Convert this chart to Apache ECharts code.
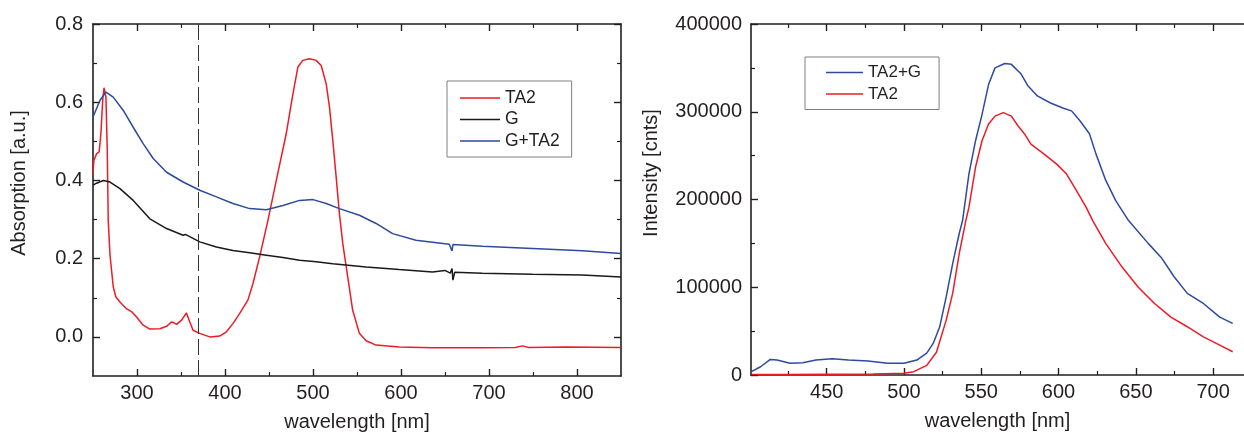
<!DOCTYPE html>
<html><head><meta charset="utf-8">
<script src="https://cdn.jsdelivr.net/npm/echarts@6/dist/echarts.min.js"></script>
<style>html,body{margin:0;padding:0;background:#fff}#c{width:1244px;height:437px}</style>
</head><body><div id="c"></div>
<script>
// ---------- Left panel: absorption ----------
const absXLabels = [300, 400, 500, 600, 700, 800];
const absXMinor = [350, 450, 550, 650, 750];
const absYLabels = [0, 0.2, 0.4, 0.6, 0.8];
const absYMinor = [0.1, 0.3, 0.5, 0.7];
const dashX = 370;

const ta2Wl = [250, 251, 254, 257, 259, 261, 262.5, 264.7, 266.2, 267.3, 269.3, 273, 276, 280.6, 288, 294, 299.5, 307, 314.6, 326, 333.6, 339, 342, 345, 350.6, 356.2, 360, 363.7, 371.3, 382.7, 394, 401.6, 409, 416.7, 426, 431.7, 439.3, 448.8, 458.3, 469.6, 477.1, 482.8, 488.4, 496, 503.6, 509.3, 515, 518.7, 522.5, 526.3, 530, 533.8, 539.5, 545.1, 552.7, 560.3, 571.7, 598, 635.8, 692.5, 730, 738, 745, 787, 850];
const ta2Abs = [0.418, 0.451, 0.468, 0.473, 0.52, 0.605, 0.637, 0.613, 0.477, 0.298, 0.21, 0.128, 0.102, 0.089, 0.072, 0.064, 0.051, 0.030, 0.020, 0.021, 0.027, 0.038, 0.036, 0.032, 0.043, 0.061, 0.038, 0.017, 0.009, 0.000, 0.002, 0.013, 0.034, 0.060, 0.094, 0.136, 0.204, 0.298, 0.40, 0.52, 0.62, 0.69, 0.707, 0.711, 0.707, 0.694, 0.647, 0.588, 0.502, 0.409, 0.315, 0.239, 0.153, 0.068, 0.009, -0.010, -0.021, -0.026, -0.028, -0.028, -0.027, -0.023, -0.027, -0.026, -0.027];

const gWl = [250, 254, 261.7, 269.3, 280.6, 295.7, 314.6, 333.6, 352.4, 355, 357, 371.3, 390.2, 409, 428, 447, 465.8, 484.7, 503.6, 522.5, 560.3, 598, 635.8, 650, 656, 658, 659, 661, 692.5, 749.4, 806, 850];
const gAbs = [0.388, 0.393, 0.400, 0.396, 0.379, 0.349, 0.302, 0.277, 0.260, 0.262, 0.257, 0.243, 0.230, 0.221, 0.215, 0.209, 0.203, 0.196, 0.192, 0.187, 0.179, 0.172, 0.166, 0.170, 0.163, 0.175, 0.145, 0.165, 0.163, 0.160, 0.158, 0.153];

const gtaWl = [250, 258, 264.7, 273, 284.4, 295.7, 307, 318.4, 333.6, 352.4, 371.3, 390.2, 409, 428, 447, 465.8, 484.7, 500, 515, 530, 552.7, 571.7, 590.5, 617, 654.8, 657, 658, 659, 692.5, 749.4, 806, 850];
const gtaAbs = [0.562, 0.605, 0.626, 0.613, 0.579, 0.536, 0.494, 0.456, 0.421, 0.396, 0.375, 0.358, 0.341, 0.328, 0.325, 0.336, 0.349, 0.351, 0.341, 0.328, 0.311, 0.290, 0.264, 0.247, 0.237, 0.240, 0.220, 0.236, 0.232, 0.226, 0.220, 0.213];

// ---------- Right panel: emission ----------
const emXLabels = [450, 500, 550, 600, 650, 700];
const emXMinor = [425, 475, 525, 575, 625, 675];
const emYLabels = [0, 100000, 200000, 300000, 400000];
const emYMinor = [50000, 150000, 250000, 350000];

const tagWl = [401.3, 407.2, 413.5, 417.8, 426.2, 434.6, 443, 453.5, 464.1, 476.7, 489.4, 500, 508.3, 514.7, 518.9, 523.1, 527.3, 531.5, 535.7, 537.9, 542, 546.3, 550.5, 554.7, 558.9, 565.2, 569.5, 575.8, 580, 586.3, 594.8, 603.2, 608.4, 613.7, 620, 624.2, 630.5, 636.9, 645.3, 658, 666.4, 674.8, 683.3, 693.7, 704.3, 712.7];
const tagInt = [3800, 9400, 17800, 17000, 13300, 14000, 17000, 18500, 17000, 15900, 13300, 13300, 17000, 25000, 36000, 54900, 89000, 127000, 161000, 176000, 229000, 267000, 297000, 331000, 350000, 355000, 354000, 343000, 330000, 318000, 310000, 304000, 301000, 290000, 275000, 252000, 222000, 199000, 176000, 150000, 134000, 112000, 93000, 81500, 66000, 58800];

const taEmWl = [401.3, 420, 450, 480, 500, 506.3, 514.7, 521, 527.3, 531.5, 535.7, 540, 542, 546.3, 550.5, 554.7, 558.9, 564.2, 569.5, 573.7, 577.9, 582.1, 590.5, 599, 605.2, 611.6, 617.9, 622.1, 630.5, 641.1, 651.6, 662.1, 672.7, 683.3, 693.7, 704.3, 712.7];
const taEmInt = [500, 600, 800, 1000, 1900, 3800, 11000, 26000, 62500, 93000, 138000, 176000, 191000, 237000, 267000, 286000, 295000, 299000, 295000, 284000, 275000, 263000, 252000, 240000, 229000, 210000, 191000, 176000, 150000, 123000, 100000, 81500, 66000, 55000, 43500, 34000, 26500];

// ---------- styling ----------
const C = '#231f20';
const FF = "'Liberation Sans', Arial, sans-serif";
const RED = '#ed1c24', BLUE = '#2d4a9e', BLACK = '#1a1a1a';
const zip = (a, b) => a.map((x, i) => [x, b[i]]);

function ax(o) {
  return Object.assign({
    type: 'value', splitLine: {show: false},
    axisLine: {show: false, onZero: false},
    axisLabel: {show: false}, axisTick: {show: false}
  }, o);
}
const lineOn = {show: true, onZero: false, lineStyle: {color: C, width: 1.6}};
const major = (vals) => ({show: true, inside: true, length: 7, customValues: vals, lineStyle: {color: C, width: 1.4}});
const minor = (vals) => ({show: true, inside: true, length: 4, customValues: vals, lineStyle: {color: C, width: 1.2}});
const nameStyle = (pad) => ({fontSize: 20, color: C, fontFamily: FF, padding: pad});

const xAxis = [
  ax({gridIndex: 0, position: 'bottom', min: 250, max: 850, axisLine: lineOn, axisTick: major(absXLabels),
      axisLabel: {show: true, customValues: absXLabels, margin: 7, fontSize: 20, color: C, fontFamily: FF},
      name: 'wavelength [nm]', nameLocation: 'middle', nameGap: 36, nameTextStyle: nameStyle(0)}),
  ax({gridIndex: 0, position: 'bottom', min: 250, max: 850, axisTick: minor(absXMinor)}),
  ax({gridIndex: 0, position: 'top', min: 250, max: 850, axisLine: lineOn, axisTick: major(absXLabels)}),
  ax({gridIndex: 0, position: 'top', min: 250, max: 850, axisTick: minor(absXMinor)}),
  ax({gridIndex: 1, position: 'bottom', min: 401, max: 720, axisLine: lineOn, axisTick: major(emXLabels),
      axisLabel: {show: true, customValues: emXLabels, margin: 7, fontSize: 20, color: C, fontFamily: FF},
      name: 'wavelength [nm]', nameLocation: 'middle', nameGap: 36, nameTextStyle: nameStyle(0)}),
  ax({gridIndex: 1, position: 'bottom', min: 401, max: 720, axisTick: minor(emXMinor)}),
  ax({gridIndex: 1, position: 'top', min: 401, max: 720, axisLine: lineOn, axisTick: major(emXLabels)}),
  ax({gridIndex: 1, position: 'top', min: 401, max: 720, axisTick: minor(emXMinor)})
];
const yAxis = [
  ax({gridIndex: 0, position: 'left', min: -0.1, max: 0.8, axisLine: lineOn, axisTick: major(absYLabels),
      axisLabel: {show: true, customValues: absYLabels, margin: 10, fontSize: 20, color: C, fontFamily: FF,
                  formatter: v => Number(v).toFixed(1)},
      name: 'Absorption [a.u.]', nameLocation: 'middle', nameGap: 64, nameTextStyle: nameStyle([0, 0, 0, 34])}),
  ax({gridIndex: 0, position: 'left', min: -0.1, max: 0.8, axisTick: minor(absYMinor)}),
  ax({gridIndex: 0, position: 'right', min: -0.1, max: 0.8, axisLine: lineOn, axisTick: major(absYLabels)}),
  ax({gridIndex: 0, position: 'right', min: -0.1, max: 0.8, axisTick: minor(absYMinor)}),
  ax({gridIndex: 1, position: 'left', min: 0, max: 400000, axisLine: lineOn, axisTick: major(emYLabels),
      axisLabel: {show: true, customValues: emYLabels, margin: 9, fontSize: 20, color: C, fontFamily: FF,
                  formatter: v => String(Math.round(v))},
      name: 'Intensity [cnts]', nameLocation: 'middle', nameGap: 90, nameTextStyle: nameStyle([0, 0, 0, 53])}),
  ax({gridIndex: 1, position: 'left', min: 0, max: 400000, axisTick: minor(emYMinor)})
];

const lineSeries = (name, data, color, xi, yi, extra) => Object.assign({
  name, type: 'line', data, xAxisIndex: xi, yAxisIndex: yi, symbol: 'none', showSymbol: false,
  lineStyle: {color, width: 1.5}, itemStyle: {color}, silent: true, clip: true
}, extra || {});

const option = {
  animation: false,
  backgroundColor: '#fff',
  grid: [
    {left: 93, top: 24, width: 528, height: 352},
    {left: 751, top: 24, width: 504, height: 351}
  ],
  xAxis, yAxis,
  legend: [
    {data: ['TA2', 'G', 'G+TA2'], orient: 'vertical', left: 447, top: 81, padding: [8, 12, 7, 13],
     icon: 'rect', itemWidth: 40, itemHeight: 1.6, itemGap: 3.5, borderColor: '#808080', borderWidth: 1,
     textStyle: {fontSize: 17.5, color: C, fontFamily: FF}, selectedMode: false},
    {data: ['TA2+G', 'TA2'], orient: 'vertical', left: 805, top: 57, padding: [7, 18, 7, 21],
     icon: 'rect', itemWidth: 37, itemHeight: 1.6, itemGap: 4.5, borderColor: '#808080', borderWidth: 1,
     textStyle: {fontSize: 17, color: C, fontFamily: FF}, selectedMode: false}
  ],
  series: [
    lineSeries('TA2', zip(ta2Wl, ta2Abs), RED, 0, 0),
    lineSeries('G', zip(gWl, gAbs), BLACK, 0, 0, {
      markLine: {silent: true, symbol: 'none', label: {show: false},
                 lineStyle: {type: [16, 5], color: '#333', width: 1}, data: [{xAxis: dashX}]}
    }),
    lineSeries('G+TA2', zip(gtaWl, gtaAbs), BLUE, 0, 0),
    lineSeries('TA2+G', zip(tagWl, tagInt), BLUE, 4, 4),
    lineSeries('TA2', zip(taEmWl, taEmInt), RED, 4, 4)
  ]
};
const chart = echarts.init(document.getElementById('c'), null, {renderer: 'canvas'});
chart.setOption(option);
</script></body></html>
